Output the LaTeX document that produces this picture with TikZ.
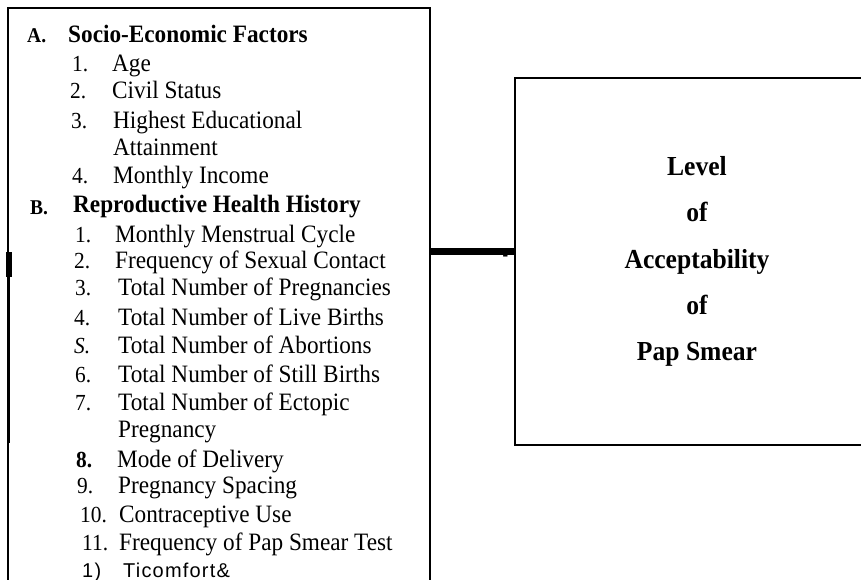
\documentclass[tikz,border=0pt]{standalone}
\usepackage{fontspec}
\setmainfont{Liberation Serif}[FakeStretch=0.93]
\newfontfamily\tailfont{Liberation Sans}[LetterSpace=6]
\newcommand\pxfont[1]{\fontsize{#1}{#1}\selectfont}

\tikzset{
	head/.style={anchor=base west, inner sep=0pt, font=\pxfont{25}\bfseries},
	headnum/.style={anchor=base west, inner sep=0pt, font=\pxfont{21}\bfseries},
	num/.style={anchor=base west, inner sep=0pt, font=\pxfont{23}},
	entry/.style={anchor=base west, inner sep=0pt, font=\pxfont{25}},
	frame/.style={line width=2.5pt},
}

\begin{document}
\begin{tikzpicture}[x=1pt, y=-1pt]
		\useasboundingbox (0,0) rectangle (861,580);
		\clip (0,0) rectangle (861,580);

		% box of factors, open at the bottom
		\draw[frame] (8,600) -- (8,8) -- (430,8) -- (430,600);
		\draw[line width=6pt] (9,252) -- (9,277);
		\draw[line width=3.4pt] (8.5,277) -- (8.5,443);
		\coordinate (factors-e) at (430,251.5);

		% A
		\node[headnum] (hA) at (27,43) {A.};
		\node[head] (hAt) at (68,43) {Socio-Economic Factors};
		\node[num] (a1n) at (72,71.7) {1.};   \node[entry] (a1) at (112,71.7) {Age};
		\node[num] (a2n) at (70,98.3) {2.};   \node[entry] (a2) at (112,98.3) {Civil Status};
		\node[num] (a3n) at (71,128.3) {3.};  \node[entry] (a3) at (113,128.3) {Highest Educational};
		\node[entry] (a3b) at (113,155.5) {Attainment};
		\node[num] (a4n) at (72,183) {4.};    \node[entry] (a4) at (113,183) {Monthly Income};

		% B
		\node[headnum] (hB) at (30,214) {B.};
		\node[head] (hBt) at (73,212) {Reproductive Health History};
		\node[num] (b1n) at (75,242) {1.};    \node[entry] (b1) at (115,242) {Monthly Menstrual Cycle};
		\node[num] (b2n) at (74,268) {2.};    \node[entry] (b2) at (115,268) {Frequency of Sexual Contact};
		\node[num] (b3n) at (75,295) {3.};    \node[entry] (b3) at (118,295) {Total Number of Pregnancies};
		\node[num] (b4n) at (74,325) {4.};    \node[entry] (b4) at (118,325) {Total Number of Live Births};
		\node[num, font=\pxfont{23}\itshape] (b5n) at (74,353) {S.};
		\node[entry] (b5) at (118,353) {Total Number of Abortions};
		\node[num] (b6n) at (75,382) {6.};    \node[entry] (b6) at (118,382) {Total Number of Still Births};
		\node[num] (b7n) at (75,410) {7.};    \node[entry] (b7) at (118,410) {Total Number of Ectopic};
		\node[entry] (b7b) at (118,437) {Pregnancy};
		\node[num, font=\pxfont{23}\bfseries] (b8n) at (76,467) {8.};
		\node[entry] (b8) at (117,467) {Mode of Delivery};
		\node[num] (b9n) at (77,493) {9.};    \node[entry] (b9) at (118,493) {Pregnancy Spacing};
		\node[num] (b10n) at (80,522) {10.};  \node[entry] (b10) at (119,522) {Contraceptive Use};
		\node[num] (b11n) at (82,550) {11.};  \node[entry] (b11) at (119,550) {Frequency of Pap Smear Test};
		\node[num, font=\pxfont{20}\tailfont] (b12n) at (82,577) {1)};
		\node[entry, font=\pxfont{20}\tailfont] (b12) at (123,577) {Ticomfort\&};

		% outcome
		\node[draw, frame, minimum width=364pt, minimum height=367pt, align=center,
			font=\fontsize{27.5}{46.25}\selectfont\bfseries] (acceptability) at (697,261.5)
			{Level\\of\\Acceptability\\of\\Pap Smear};

		\draw[line width=7pt] (factors-e) -- (factors-e -| acceptability.west);
		\node[inner sep=0pt, font=\pxfont{18}\bfseries] (dash) at (505.5,258) {-};
	\end{tikzpicture}
\end{document}
